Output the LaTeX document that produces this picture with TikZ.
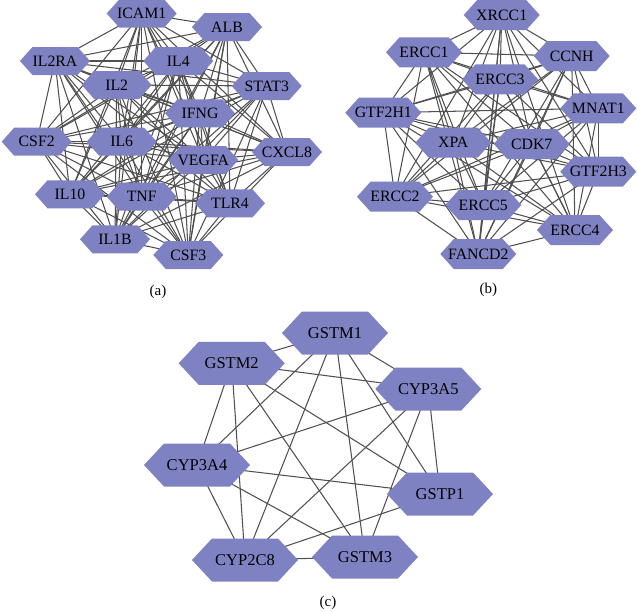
\documentclass[tikz,border=0pt]{standalone}
\usepackage{fontspec}
\setmainfont{Liberation Serif}
\usetikzlibrary{backgrounds}
\definecolor{hexfill}{RGB}{127,130,194}
\definecolor{edgecol}{RGB}{80,80,80}
\tikzset{
  hexnode/.style n args={3}{shape=rectangle, inner sep=0pt, minimum width=#1, minimum height=#2,
    font=\fontsize{15.8}{16}\selectfont,
    path picture={\fill[hexfill] (path picture bounding box.west)
      -- ([xshift=#3]path picture bounding box.north west)
      -- ([xshift=-#3]path picture bounding box.north east)
      -- (path picture bounding box.east)
      -- ([xshift=-#3]path picture bounding box.south east)
      -- ([xshift=#3]path picture bounding box.south west) -- cycle;}},
  hexa/.style={hexnode={70pt}{28pt}{12.5pt}},
  hexb/.style={hexnode={76pt}{30pt}{13.5pt}},
  hexc/.style={hexnode={106pt}{43pt}{20pt}, font=\fontsize{16.5}{18}\selectfont},
  edge/.style={draw=edgecol, line width=1.05pt},
  panellabel/.style={font=\fontsize{15}{17}\selectfont, inner sep=0pt}
}
\begin{document}
\begin{tikzpicture}[x=1pt,y=-1pt]
\useasboundingbox (0,0) rectangle (637,611);
% ---------- panel (a)
\node[hexa] (ICAM1) at (141.7,13.5) {ICAM1};
\node[hexa] (ALB) at (227,27) {ALB};
\node[hexa] (IL2RA) at (55,61) {IL2RA};
\node[hexa] (IL4) at (178.3,61) {IL4};
\node[hexa] (IL2) at (116.7,85) {IL2};
\node[hexa] (STAT3) at (266.7,86) {STAT3};
\node[hexa] (IFNG) at (200,113.3) {IFNG};
\node[hexa] (CSF2) at (36.7,141.7) {CSF2};
\node[hexa] (IL6) at (121.7,141.7) {IL6};
\node[hexa] (CXCL8) at (287,152) {CXCL8};
\node[hexa] (VEGFA) at (203.3,160) {VEGFA};
\node[hexa] (IL10) at (70,194.3) {IL10};
\node[hexa] (TNF) at (141.7,196.7) {TNF};
\node[hexa] (TLR4) at (230,203.3) {TLR4};
\node[hexa] (IL1B) at (115,239.3) {IL1B};
\node[hexa] (CSF3) at (188.3,255) {CSF3};
\node[panellabel] (la) at (158,291.7) {(a)};
% ---------- panel (b)
\node[hexb] (XRCC1) at (501.7,15) {XRCC1};
\node[hexb] (ERCC1) at (424,52.3) {ERCC1};
\node[hexb] (CCNH) at (571.7,56) {CCNH};
\node[hexb] (ERCC3) at (500,79.3) {ERCC3};
\node[hexb] (GTF2H1) at (383.3,112.7) {GTF2H1};
\node[hexb] (MNAT1) at (598.3,108.3) {MNAT1};
\node[hexb] (XPA) at (453.3,142.7) {XPA};
\node[hexb] (CDK7) at (531.7,144) {CDK7};
\node[hexb] (GTF2H3) at (598.3,171.7) {GTF2H3};
\node[hexb] (ERCC2) at (395,196.7) {ERCC2};
\node[hexb] (ERCC5) at (483.3,205) {ERCC5};
\node[hexb] (ERCC4) at (575,230) {ERCC4};
\node[hexb] (FANCD2) at (478.3,254) {FANCD2};
\node[panellabel] (lb) at (488.3,290) {(b)};
% ---------- panel (c)
\node[hexc] (GSTM1) at (335,333) {GSTM1};
\node[hexc] (GSTM2) at (231.7,363.3) {GSTM2};
\node[hexc] (CYP3A5) at (428.3,389) {CYP3A5};
\node[hexc] (CYP3A4) at (197,465) {CYP3A4};
\node[hexc] (GSTP1) at (440,494) {GSTP1};
\node[hexc] (CYP2C8) at (245,560) {CYP2C8};
\node[hexc] (GSTM3) at (365,557) {GSTM3};
\node[panellabel] (lc) at (328,603) {(c)};
% ---------- edges
\begin{scope}[on background layer]
\foreach \p [count=\i] in {ICAM1,ALB,IL2RA,IL4,IL2,STAT3,IFNG,CSF2,IL6,CXCL8,VEGFA,IL10,TNF,TLR4,IL1B,CSF3}{
  \foreach \q [count=\j] in {ICAM1,ALB,IL2RA,IL4,IL2,STAT3,IFNG,CSF2,IL6,CXCL8,VEGFA,IL10,TNF,TLR4,IL1B,CSF3}{
    \ifnum\j>\i \draw[edge] (\p.center) -- (\q.center); \fi
  }
}
\foreach \p [count=\i] in {XRCC1,ERCC1,CCNH,ERCC3,GTF2H1,MNAT1,XPA,CDK7,GTF2H3,ERCC2,ERCC5,ERCC4,FANCD2}{
  \foreach \q [count=\j] in {XRCC1,ERCC1,CCNH,ERCC3,GTF2H1,MNAT1,XPA,CDK7,GTF2H3,ERCC2,ERCC5,ERCC4,FANCD2}{
    \ifnum\j>\i \draw[edge] (\p.center) -- (\q.center); \fi
  }
}
\foreach \p/\q in {GSTM1/GSTM2,GSTM1/CYP3A5,GSTM1/CYP3A4,GSTM1/CYP2C8,GSTM1/GSTM3,GSTM1/GSTP1,
  GSTM2/CYP3A5,GSTM2/CYP3A4,GSTM2/CYP2C8,GSTM2/GSTM3,GSTM2/GSTP1,
  CYP3A5/CYP3A4,CYP3A5/CYP2C8,CYP3A5/GSTM3,CYP3A5/GSTP1,
  CYP3A4/GSTP1,CYP3A4/GSTM3,CYP3A4/CYP2C8,GSTP1/CYP2C8,CYP2C8/GSTM3}{
  \draw[edge] (\p.center) -- (\q.center);
}
\end{scope}
\end{tikzpicture}
\end{document}
